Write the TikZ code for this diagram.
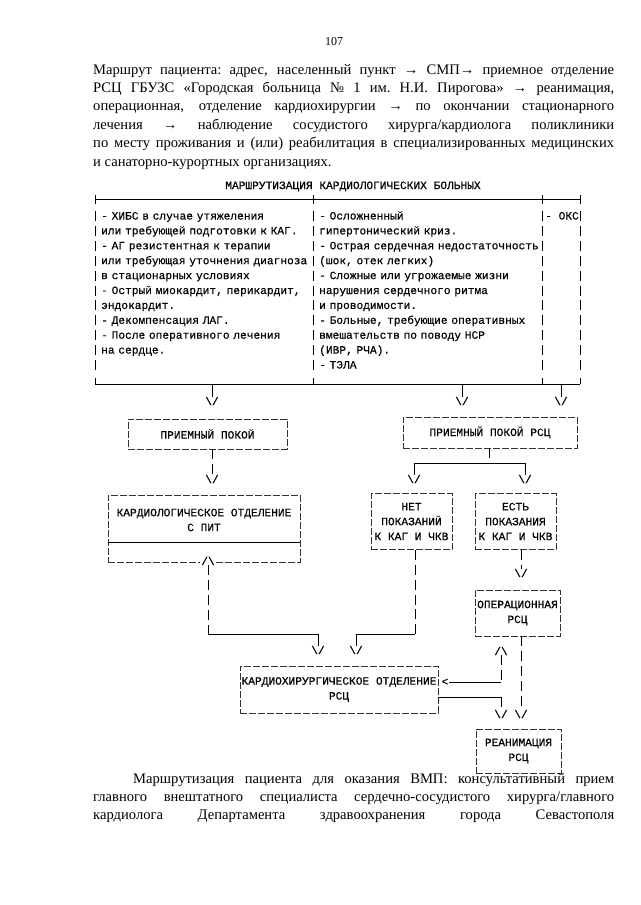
\documentclass[tikz,border=0pt]{standalone}
\usepackage{fontspec}
\setmainfont{Liberation Serif}
\newfontfamily\typewr[FakeBold=0.4]{Liberation Mono}
\usetikzlibrary{positioning}
\newcommand{\tw}{\typewr\fontsize{11.2}{14.9}\selectfont}
\newcommand{\arrdown}{\textbackslash/}
\newcommand{\arrup}{/\textbackslash}
\newcommand{\justline}[2][521pt]{\hbox to #1{\spaceskip=0.25em plus 1fil minus 0.08em\xspaceskip=\spaceskip #2}}
\tikzset{
  box/.style={draw=black!80, dash pattern=on 7pt off 2pt, line width=0.6pt, inner sep=0pt, align=center, font=\tw},
  arr/.style={inner sep=0pt, font=\tw},
  vbar/.style={line width=0.6pt, dash pattern=on 10pt off 4.9pt},
  hbar/.style={line width=0.6pt},
  col/.style={anchor=base west, inner sep=0pt, align=left, font=\tw},
  prose/.style={anchor=base west, inner sep=0pt, font=\fontsize{14.6}{18.4}\selectfont}
}
\begin{document}
\begin{tikzpicture}[x=1pt,y=-1pt]
        %Page
            \path[fill=white] (0,0) rectangle (640,905);
            \node[anchor=base, font=\fontsize{12}{14}\selectfont] (pagenum) at (334,45) {107};
        %Text above
            \node[prose] (intro1) at (93,74) {\justline{Маршрут пациента: адрес, населенный пункт → СМП→ приемное отделение}};
            \node[prose] (intro2) at (93,92.4) {\justline{РСЦ ГБУЗС «Городская больница № 1 им. Н.И. Пирогова» → реанимация,}};
            \node[prose] (intro3) at (93,110.8) {\justline{операционная, отделение кардиохирургии → по окончании стационарного}};
            \node[prose] (intro4) at (93,129.2) {\justline{лечения → наблюдение сосудистого хирурга/кардиолога поликлиники}};
            \node[prose] (intro5) at (93,147.6) {\justline{по месту проживания и (или) реабилитация в специализированных медицинских}};
            \node[prose] (intro6) at (93,166) {и санаторно-курортных организациях.};
        %Table
            \node[arr, anchor=base] (title) at (353,189) {МАРШРУТИЗАЦИЯ КАРДИОЛОГИЧЕСКИХ БОЛЬНЫХ};
            \draw[hbar] (95,199) -- (580,199);
            \draw[hbar] (95,195) -- (95,204) (313,195) -- (313,204) (542,195) -- (542,204) (580,195) -- (580,204);
            \draw[vbar] (95,211) -- (95,371) (313,211) -- (313,371) (542,211) -- (542,371) (580,211) -- (580,371);
            \draw[hbar] (95,384) -- (580,384);
            \draw[hbar] (95,378) -- (95,384) (313,378) -- (313,384) (542,378) -- (542,384) (580,378) -- (580,384);
            \node[col, text width=220pt] (leftcol) at (101,219.5) {- ХИБС в случае утяжеления\\
                или требующей подготовки к КАГ.\\
                - АГ резистентная к терапии\\
                или требующая уточнения диагноза\\
                в стационарных условиях\\
                - Острый миокардит, перикардит,\\
                эндокардит.\\
                - Декомпенсация ЛАГ.\\
                - После оперативного лечения\\
                на сердце.};
            \node[col, text width=225pt] (midcol) at (319,219.5) {- Осложненный\\
                гипертонический криз.\\
                - Острая сердечная недостаточность\\
                (шок, отек легких)\\
                - Сложные или угрожаемые жизни\\
                нарушения сердечного ритма\\
                и проводимости.\\
                - Больные, требующие оперативных\\
                вмешательств по поводу НСР\\
                (ИВР, РЧА).\\
                - ТЭЛА};
            \node[col] (rightcol) at (545,219.5) {- ОКС};
        %Boxes
            \node[box, minimum width=159pt, minimum height=30pt] (pp) at (207.5,434) {ПРИЕМНЫЙ ПОКОЙ};
            \node[box, minimum width=174pt, minimum height=31pt] (ppr) at (490,432.5) {ПРИЕМНЫЙ ПОКОЙ РСЦ};
            \node[box, minimum width=192pt, minimum height=67pt] (kard) at (204,528.5) {};
            \node[arr, align=center] (kardtext) at (204,520) {КАРДИОЛОГИЧЕСКОЕ ОТДЕЛЕНИЕ\\С ПИТ};
            \draw[hbar] (kard.west |- 0,542) -- (kard.east |- 0,542);
            \node[box, minimum width=81pt, minimum height=56pt] (net) at (411.5,521.5) {НЕТ\\ПОКАЗАНИЙ\\К КАГ И ЧКВ};
            \node[box, minimum width=81pt, minimum height=56pt] (est) at (515.5,521.5) {ЕСТЬ\\ПОКАЗАНИЯ\\К КАГ И ЧКВ};
            \node[box, minimum width=85pt, minimum height=46pt] (oper) at (517.5,613) {ОПЕРАЦИОННАЯ\\РСЦ};
            \node[box, minimum width=198pt, minimum height=47pt] (kh) at (339,689.5) {КАРДИОХИРУРГИЧЕСКОЕ ОТДЕЛЕНИЕ\\РСЦ};
            \node[box, minimum width=85pt, minimum height=44pt] (rean) at (518.5,751) {РЕАНИМАЦИЯ\\РСЦ};
        %Arrow heads
            \node[arr] (a1) at (212,401) {\arrdown};
            \node[arr] (a2) at (462,401) {\arrdown};
            \node[arr] (a3) at (561,401) {\arrdown};
            \node[arr] (a4) at (212,479) {\arrdown};
            \node[arr] (a5) at (414,479) {\arrdown};
            \node[arr] (a6) at (525,479) {\arrdown};
            \node[arr, fill=white, inner xsep=1pt] (a7) at (208,561) {\arrup};
            \node[arr] (a8) at (521,573) {\arrdown};
            \node[arr] (a9) at (318,650) {\arrdown};
            \node[arr] (a10) at (356,650) {\arrdown};
            \node[arr] (a11) at (501,651) {\arrup};
            \node[arr] (a12) at (445,682) {<};
            \node[arr] (a13) at (501,714) {\arrdown};
            \node[arr] (a14) at (521,714) {\arrdown};
        %Connectors
            \draw[hbar] (a1 |- 0,384) -- (a1.north);
            \draw[hbar] (a2 |- 0,384) -- (a2.north);
            \draw[hbar] (a3 |- 0,384) -- (a3.north);
            \draw[vbar] (a4 |- pp.south) -- (a4.north);
            \coordinate (fork) at (489,463);
            \draw[vbar] (fork |- ppr.south) -- (fork);
            \draw[hbar] (a5.north |- fork) -- (a6.north |- fork);
            \draw[hbar] (a5.north |- fork) -- (a5.north);
            \draw[hbar] (a6.north |- fork) -- (a6.north);
            \coordinate (lc) at (208,634);
            \coordinate (rc) at (415,634);
            \draw[vbar] (a7.south) -- (lc);
            \draw[hbar] (lc) -- (a9.north |- lc) -- (a9.north);
            \draw[vbar] (rc |- net.south) -- (rc);
            \draw[hbar] (rc) -- (a10.north |- rc) -- (a10.north);
            \draw[vbar] (a8 |- est.south) -- (a8.north);
            \draw[vbar] (a11.south) -- (a11 |- a12);
            \draw[hbar] (a11 |- a12) -- (a12.east);
            \coordinate (kr) at (501,697);
            \draw[hbar] (kh.east |- kr) -- (kr);
            \draw[vbar] (kr) -- (a13.north);
            \draw[vbar] (a14 |- oper.south) -- (a14.north);
        %Text below
            \node[prose] (outro1) at (133,783) {\justline[481pt]{Маршрутизация пациента для оказания ВМП: консультативный прием}};
            \node[prose] (outro2) at (93,801.4) {\justline{главного внештатного специалиста сердечно-сосудистого хирурга/главного}};
            \node[prose] (outro3) at (93,819.8) {\justline{кардиолога Департамента здравоохранения города Севастополя}};
    \end{tikzpicture}
\end{document}
